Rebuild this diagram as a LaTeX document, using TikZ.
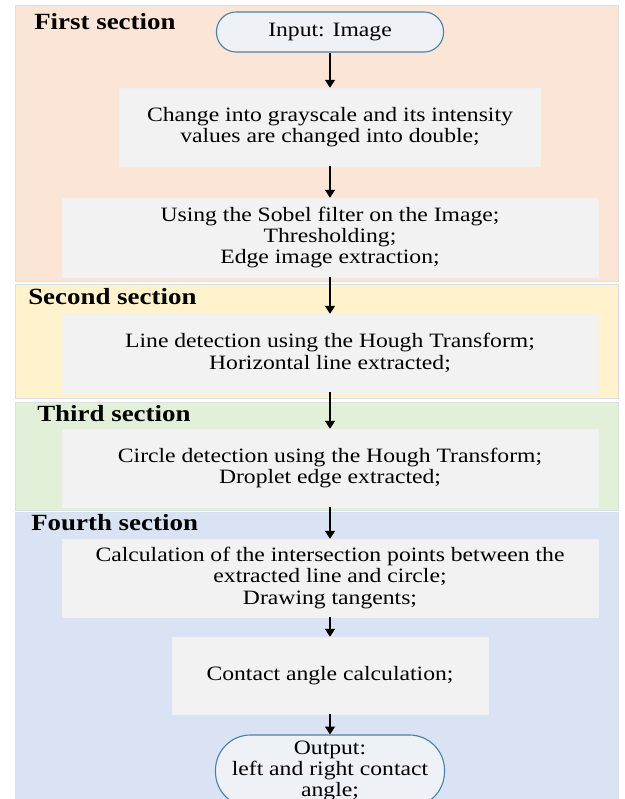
\documentclass[tikz,border=0pt]{standalone}
\usepackage{fontspec}
\setmainfont{Liberation Serif}[FakeStretch=1.16]
\usetikzlibrary{arrows.meta,shadows}
\definecolor{secone}{HTML}{FBE5D6}
\definecolor{sectwo}{HTML}{FFF2CC}
\definecolor{secthree}{HTML}{E2F0D9}
\definecolor{secfour}{HTML}{DAE3F3}
\definecolor{secline}{HTML}{D5E0E8}
\definecolor{boxgray}{HTML}{F2F2F2}
\definecolor{termfill}{HTML}{EEF2F7}
\definecolor{termblue}{HTML}{4F7FA8}
\tikzset{
	procbox/.style={rectangle, draw=black!6, fill=boxgray, align=center, inner sep=2pt,
		drop shadow={shadow xshift=0.5pt, shadow yshift=-0.7pt, fill=black!25, opacity=0.3},
		font=\fontsize{14.5}{15.2}\selectfont},
	termbox/.style={rectangle, draw=termblue, line width=0.8pt, fill=termfill, align=center, inner sep=1pt,
		font=\fontsize{14.5}{15.2}\selectfont},
	seclabel/.style={anchor=west, inner sep=0pt, font=\fontsize{16.5}{18}\selectfont\bfseries},
	secback/.style={draw=secline, line width=0.6pt},
	flowarrow/.style={-{Triangle[length=5.5pt,width=7pt]}, line width=0.85pt}
}

\begin{document}
\begin{tikzpicture}[x=0.025cm, y=-0.025cm]
		%%%%% START %%%%%
		
		\useasboundingbox (0, 0) rectangle (624, 799);
		\clip (0, 0) rectangle (624, 799);
		\fill[white] (0, 0) rectangle (624, 799);
		
		\draw[secback, fill=secone] (15, 5) rectangle (618, 281);
		\draw[secback, fill=sectwo] (15, 284) rectangle (618, 398);
		\draw[secback, fill=secthree] (15, 402) rectangle (618, 510);
		\draw[secback, fill=secfour] (15, 512) rectangle (618, 815);
		
		\node[seclabel] (lblfirst) at (34, 22) {First section};
		\node[seclabel] (lblsecond) at (28, 297) {Second section};
		\node[seclabel] (lblthird) at (37, 414) {Third section};
		\node[seclabel] (lblfourth) at (31, 523) {Fourth section};
		
		\node[termbox, rounded corners=0.49cm, minimum width=5.675cm, minimum height=1.0cm] (input) at (330, 32) {Input: Image};
		\node[procbox, minimum width=10.525cm, minimum height=1.95cm] (gray) at (330, 127) {Change into grayscale and its intensity\\values are changed into double;};
		\node[procbox, minimum width=13.4cm, minimum height=1.975cm] (sobel) at (330, 237.5) {Using the Sobel filter on the Image;\\Thresholding;\\Edge image extraction;};
		\node[procbox, minimum width=13.4cm, minimum height=1.95cm] (hline) at (330, 353) {Line detection using the Hough Transform;\\Horizontal line extracted;};
		\node[procbox, minimum width=13.4cm, minimum height=1.95cm] (hcircle) at (330, 468) {Circle detection using the Hough Transform;\\Droplet edge extracted;};
		\node[procbox, minimum width=13.4cm, minimum height=1.95cm] (tangent) at (330, 578) {Calculation of the intersection points between the\\extracted line and circle;\\Drawing tangents;};
		\node[procbox, minimum width=7.9cm, minimum height=1.925cm] (angle) at (330, 675.5) {Contact angle calculation;};
		\node[termbox, rounded corners=0.88cm, minimum width=5.725cm, minimum height=1.8cm] (output) at (330, 771) {Output:\\left and right contact\\angle;};
		
		\draw[flowarrow] (input) -- (gray);
		\draw[flowarrow] (gray) -- (sobel);
		\draw[flowarrow] (sobel) -- (hline);
		\draw[flowarrow] (hline) -- (hcircle);
		\draw[flowarrow] (hcircle) -- (tangent);
		\draw[flowarrow] (tangent) -- (angle);
		\draw[flowarrow] (angle) -- (output);
		
		%%%%% END %%%%%
\end{tikzpicture}
\end{document}
